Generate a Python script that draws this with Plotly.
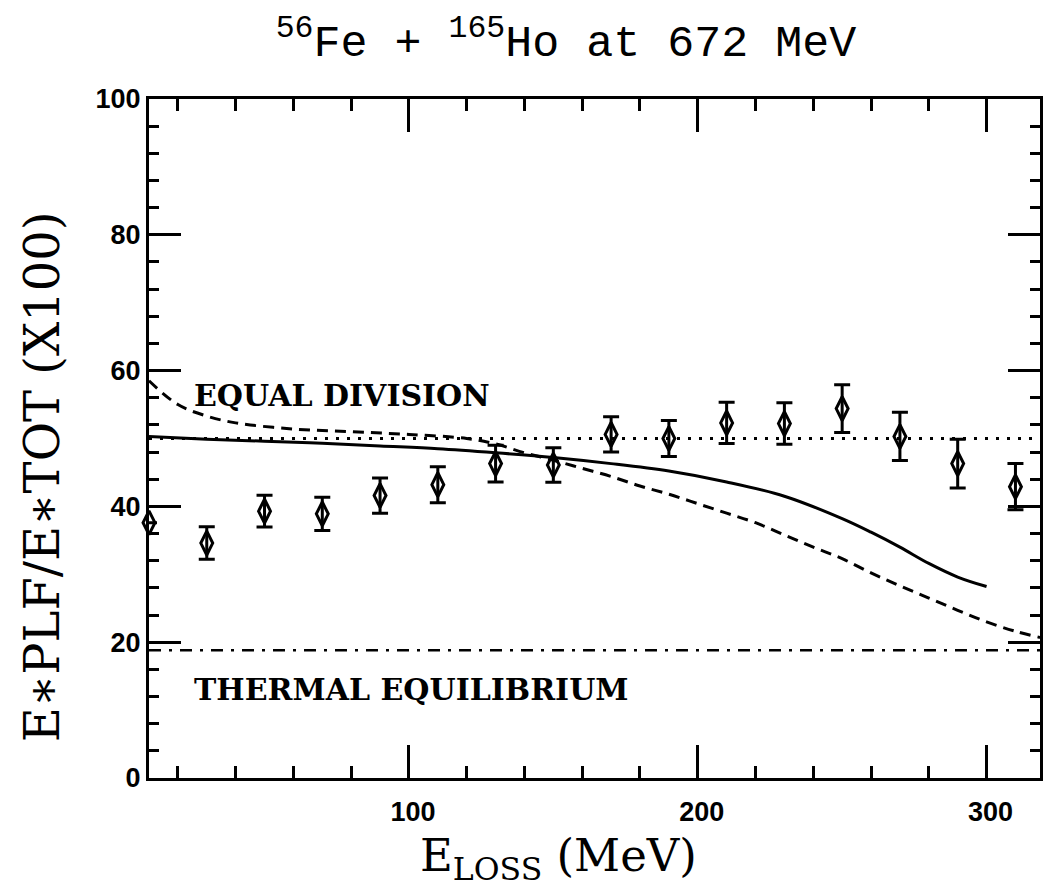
import plotly.graph_objects as go

# ---- data ----
e_loss = [10, 30, 50, 70, 90, 110, 130, 150, 170, 190, 210, 230, 250, 270, 290, 310]
ratio = [37.6, 34.6, 39.3, 38.9, 41.6, 43.2, 46.3, 46.1, 50.6, 50.0, 52.3, 52.2, 54.4, 50.3, 46.3, 42.9]
ratio_err = [0, 2.4, 2.35, 2.45, 2.6, 2.65, 2.7, 2.55, 2.6, 2.65, 3.05, 3.05, 3.5, 3.55, 3.6, 3.4]

solid_x = [10, 30, 50, 70, 90, 110, 130, 150, 170, 190, 210, 230, 250, 260, 270, 280, 290, 300]
solid_y = [50.3, 49.9, 49.6, 49.3, 48.9, 48.5, 47.9, 47.2, 46.3, 45.2, 43.6, 41.5, 38.2, 36.2, 34.0, 31.6, 29.6, 28.2]

dashed_x = [10, 20, 30, 40, 60, 80, 100, 120, 130, 140, 150, 160, 170, 180, 190, 200, 210,
            220, 230, 240, 250, 260, 270, 280, 290, 300, 310, 318.5]
dashed_y = [58.5, 55.0, 53.3, 52.3, 51.4, 51.0, 50.6, 50.0, 49.2, 47.9, 46.8, 45.6, 44.4, 43.0,
            41.8, 40.4, 39.0, 37.6, 35.8, 34.0, 32.3, 30.2, 28.3, 26.5, 24.7, 23.0, 21.6, 20.7]

x_span = [10, 318.5]
equal_division = [50, 50]
thermal_equilibrium = [18.8, 18.8]

x_tick_vals = [100, 200, 300]
x_tick_text = ["100", "200", "300"]
y_tick_vals = [0, 20, 40, 60, 80, 100]
y_tick_text = ["0", "20", "40", "60", "80", "100"]

# plot-area geometry (pixels)
pl, pr, pt, pb = 149, 0, 99, 110
W, H = 1043, 888
pw, ph = W - pl - pr, H - pt - pb


def px_to_paper(px, py):
    return (px - pl) / pw, 1 - (py - pt) / ph


fig = go.Figure()

fig.add_trace(go.Scatter(x=x_span, y=equal_division, mode="lines",
                         line=dict(color="black", width=3, dash="3px,8px"),
                         showlegend=False))
fig.add_trace(go.Scatter(x=x_span, y=thermal_equilibrium, mode="lines",
                         line=dict(color="black", width=2.5, dash="12px,8px,3px,8px"),
                         showlegend=False))
fig.add_trace(go.Scatter(x=solid_x, y=solid_y, mode="lines", line_shape="spline",
                         line=dict(color="black", width=3), showlegend=False))
fig.add_trace(go.Scatter(x=dashed_x, y=dashed_y, mode="lines", line_shape="spline",
                         line=dict(color="black", width=3, dash="11px,7px"), showlegend=False))
fig.add_trace(go.Scatter(x=e_loss, y=ratio, mode="markers",
                         marker=dict(symbol="diamond-tall-open", size=17, color="black",
                                     line=dict(width=3, color="black")),
                         error_y=dict(type="data", array=ratio_err, visible=True,
                                      color="black", thickness=3, width=8),
                         cliponaxis=False, showlegend=False))

xt_x, xt_y = px_to_paper(560, 858)
yt_x, yt_y = px_to_paper(42, 477)

fig.update_layout(
    width=W, height=H,
    margin=dict(l=pl, r=pr, t=pt, b=pb),
    paper_bgcolor="white", plot_bgcolor="white",
    title=dict(text="<sup>56</sup>Fe + <sup>165</sup>Ho at 672 MeV",
               font=dict(family="Liberation Mono", size=45, color="black"),
               x=566 / W, xanchor="center", xref="container",
               y=1 - 40 / H, yanchor="middle", yref="container"),
    xaxis=dict(range=x_span, tickmode="array", tickvals=x_tick_vals, ticktext=x_tick_text,
               ticks="inside", ticklen=33, tickwidth=3, tickcolor="black",
               showline=True, linewidth=3, linecolor="black", mirror="ticks",
               showgrid=False, zeroline=False,
               ticklabelstandoff=8, ticklabelshift=4,
               tickfont=dict(family="Liberation Sans", size=27, color="black", weight="bold"),
               minor=dict(dtick=20, tick0=0, ticks="inside", ticklen=12, tickwidth=3,
                          tickcolor="black", showgrid=False)),
    yaxis=dict(range=[0, 100], tickmode="array", tickvals=y_tick_vals, ticktext=y_tick_text,
               ticks="inside", ticklen=32, tickwidth=3, tickcolor="black",
               showline=True, linewidth=3, linecolor="black", mirror="ticks",
               showgrid=False, zeroline=False,
               tickfont=dict(family="Liberation Sans", size=27, color="black", weight="bold"),
               minor=dict(dtick=4, tick0=0, ticks="inside", ticklen=10, tickwidth=3,
                          tickcolor="black", showgrid=False)),
    annotations=[
        dict(text="EQUAL DIVISION", x=25, y=56.4, xref="x", yref="y",
             xanchor="left", yanchor="middle", showarrow=False,
             font=dict(family="DejaVu Serif", size=30, color="black", weight="bold")),
        dict(text="THERMAL EQUILIBRIUM", x=25, y=13.0, xref="x", yref="y",
             xanchor="left", yanchor="middle", showarrow=False,
             font=dict(family="DejaVu Serif", size=30, color="black", weight="bold")),
        dict(text="E<sub>LOSS</sub> (MeV)", x=xt_x, y=xt_y, xref="paper", yref="paper",
             showarrow=False, xanchor="center", yanchor="middle",
             font=dict(family="DejaVu Serif", size=45, color="black")),
        dict(text="E∗PLF/E∗TOT (X100)", textangle=-90, x=yt_x, y=yt_y,
             xref="paper", yref="paper",
             showarrow=False, xanchor="center", yanchor="middle",
             font=dict(family="DejaVu Serif", size=48, color="black")),
    ],
)

fig.write_html("out.html")
